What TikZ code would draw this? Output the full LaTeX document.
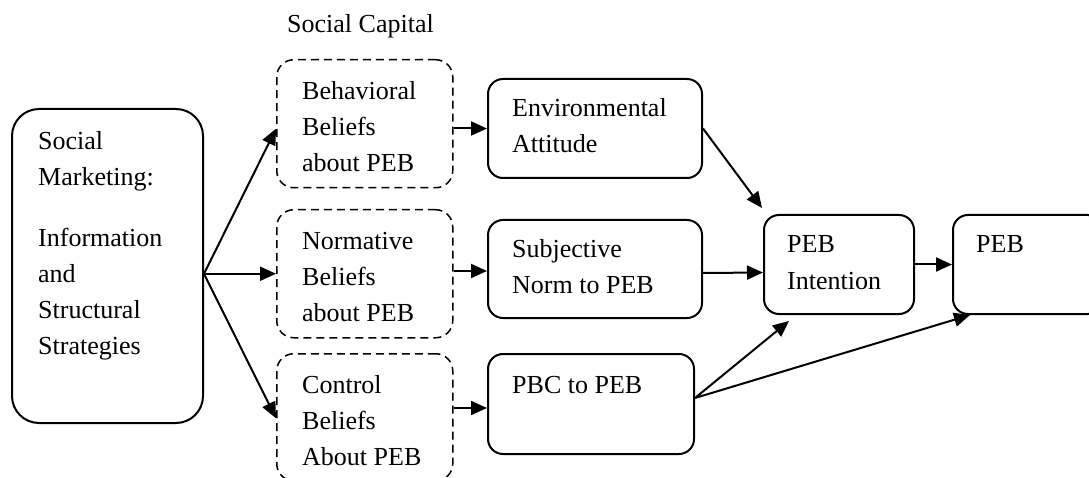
\documentclass[tikz,border=0pt]{standalone}
\usepackage{fontspec}
\setmainfont{Liberation Serif}
\usetikzlibrary{arrows.meta,calc}

\tikzset{
  solidbox/.style={draw, line width=2pt, rounded corners=15pt, inner sep=0pt, anchor=north west},
  bigbox/.style={solidbox, rounded corners=27pt},
  dashbox/.style={draw, line width=1.5pt, dash pattern=on 8pt off 5pt, rounded corners=17pt, inner sep=0pt, anchor=north west},
  lbl/.style={anchor=base west, inner sep=0pt, font=\fontsize{26}{36}\selectfont},
  link/.style={line width=2pt, -{Triangle[length=16pt,width=14pt]}},
}
\newcommand{\lines}[1]{\begin{tabular}[t]{@{}l@{}}#1\end{tabular}}

\begin{document}
\begin{tikzpicture}[x=1pt, y=-1pt]
  \useasboundingbox (0,0) rectangle (1089,478);
  \clip (0,0) rectangle (1089,478);

  % source box
  \node[bigbox, minimum width=191pt, minimum height=314pt] (sm) at (11,108) {};
  \node[lbl] (smt) at (38,150) {\lines{Social\\Marketing:\\[25pt]Information\\and\\Structural\\Strategies}};

  % social capital column
  \node[lbl] (cap) at (287,33) {Social Capital};
  \node[dashbox, minimum width=176pt, minimum height=128pt] (beh) at (276,59) {};
  \node[lbl] (beht) at (302,100) {\lines{Behavioral\\Beliefs\\about PEB}};
  \node[dashbox, minimum width=176pt, minimum height=128pt] (nor) at (276,209) {};
  \node[lbl] (nort) at (302,250) {\lines{Normative\\Beliefs\\about PEB}};
  \node[dashbox, minimum width=176pt, minimum height=127pt] (con) at (276,353) {};
  \node[lbl] (cont) at (302,393) {\lines{Control\\Beliefs\\About PEB}};

  % attitude / norm / control
  \node[solidbox, minimum width=214pt, minimum height=99pt] (env) at (487,78) {};
  \node[lbl] (envt) at (512,117) {\lines{Environmental\\Attitude}};
  \node[solidbox, minimum width=214pt, minimum height=98pt] (sub) at (487,219) {};
  \node[lbl] (subt) at (512,258) {\lines{Subjective\\Norm to PEB}};
  \node[solidbox, minimum width=206pt, minimum height=100pt] (pbc) at (487,353) {};
  \node[lbl] (pbct) at (512,393) {PBC to PEB};

  % intention and behaviour
  \node[solidbox, minimum width=150pt, minimum height=99pt] (int) at (763,214) {};
  \node[lbl] (intt) at (787,253) {\lines{PEB\\Intention}};
  \node[solidbox, minimum width=150pt, minimum height=99pt] (peb) at (952,214) {};
  \node[lbl] (pebt) at (976,253) {PEB};

  % connectors
  \coordinate (fan) at (sm.east |- nor.west);
  \draw[link] (fan) -- ($(beh.west)+(0,5)$);
  \draw[link] (fan) -- (nor.west);
  \draw[link] (fan) -- ($(con.west)+(0,1)$);

  \draw[link] (beh.east |- env.west) -- (env.west);
  \draw[link] ($(nor.east |- sub.west)+(0,2)$) -- ($(sub.west)+(0,2)$);
  \draw[link] ($(con.east |- pbc.west)+(0,4)$) -- ($(pbc.west)+(0,4)$);

  \draw[link] (env.east) -- ($(int.north west)+(-1,-6)$);
  \draw[link] ($(sub.east)+(0,4)$) -- ($(int.west)+(0,8)$);
  \draw[link] (int.east) -- (peb.west);

  \coordinate (pbcout) at ($(pbc.east)+(0,-6)$);
  \draw[link] (pbcout) -- ($(int.south west)+(26,6)$);
  \draw[link] (pbcout) -- ($(peb.south west)+(18,0)$);
\end{tikzpicture}
\end{document}
